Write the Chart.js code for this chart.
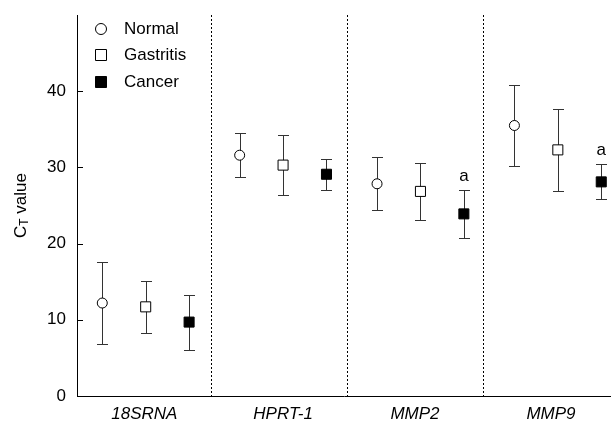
<!DOCTYPE html>
<html>
<head>
<meta charset="utf-8">
<script src="https://cdn.jsdelivr.net/npm/chart.js@4"></script>
<style>
  html, body { margin: 0; padding: 0; background: #fff; overflow: hidden; }
  canvas { display: block; }
</style>
</head>
<body>
<canvas id="ctChart" width="611" height="421"></canvas>
<script>
// genes on the x axis
const genes = ['18SRNA', 'HPRT-1', 'MMP2', 'MMP9'];
const geneLabelAt = [0.49, 1.5, 2.46, 3.45];
const groups = ['Normal', 'Gastritis', 'Cancer'];

// mean CT values
const normalMean    = [12.2, 31.6, 27.85, 35.5];
const gastritisMean = [11.7, 30.3, 26.85, 32.3];
const cancerMean    = [9.7, 29.1, 23.9, 28.1];

// error bar half widths (SD)
const normalSd    = [5.35, 2.9, 3.5, 5.3];
const gastritisSd = [3.45, 3.9, 3.75, 5.4];
const cancerSd    = [3.6, 2.05, 3.1, 2.3];

// significance marks over the cancer group
const cancerMarks = ['', '', 'a', 'a'];

const yTicks = [0, 10, 20, 30, 40];
const dividerAt = [0.977, 1.967, 2.957];

const FONT = '"Liberation Sans", Arial, sans-serif';
const groupOffset = [-0.316, 0, 0.316];

function pointsFor(means, sds, g) {
  return means.map((m, i) => ({ x: i + 0.5 + groupOffset[g], y: m, sd: sds[i] }));
}

// keep chart.js from reserving room for half labels
function noPad(scale) {
  scale.paddingTop = 0;
  scale.paddingBottom = 0;
  scale.paddingLeft = 0;
  scale.paddingRight = 0;
}

const errorBars = {
  id: 'errorBars',
  beforeDatasetsDraw(chart) {
    const ctx = chart.ctx;
    const xs = chart.scales.x, ys = chart.scales.y;
    ctx.save();
    ctx.strokeStyle = '#333';
    ctx.lineWidth = 1;
    chart.data.datasets.forEach(ds => {
      ds.data.forEach(p => {
        const x = Math.round(xs.getPixelForValue(p.x)) + 0.5;
        const top = Math.round(ys.getPixelForValue(p.y + p.sd)) + 0.5;
        const bot = Math.round(ys.getPixelForValue(p.y - p.sd)) + 0.5;
        ctx.beginPath();
        ctx.moveTo(x, top); ctx.lineTo(x, bot);
        ctx.moveTo(x - 5.5, top); ctx.lineTo(x + 5.5, top);
        ctx.moveTo(x - 5.5, bot); ctx.lineTo(x + 5.5, bot);
        ctx.stroke();
      });
    });
    // marks above cancer bars
    ctx.fillStyle = '#000';
    ctx.font = '17px ' + FONT;
    ctx.textAlign = 'center';
    ctx.textBaseline = 'middle';
    const cds = chart.data.datasets[2];
    cancerMarks.forEach((m, i) => {
      if (!m) return;
      const p = cds.data[i];
      ctx.fillText(m, xs.getPixelForValue(p.x), ys.getPixelForValue(p.y + p.sd) - 14);
    });
    ctx.restore();
  }
};

const frame = {
  id: 'frame',
  afterDraw(chart) {
    const ctx = chart.ctx;
    const a = chart.chartArea;
    const xs = chart.scales.x, ys = chart.scales.y;
    ctx.save();
    ctx.strokeStyle = '#000';
    ctx.lineWidth = 1;
    // dotted separators between genes
    ctx.setLineDash([2, 2]);
    dividerAt.forEach(v => {
      const x = Math.round(xs.getPixelForValue(v)) + 0.5;
      ctx.beginPath();
      ctx.moveTo(x, a.top);
      ctx.lineTo(x, a.bottom);
      ctx.stroke();
    });
    ctx.setLineDash([]);
    // inward tick marks
    yTicks.forEach(v => {
      const y = Math.round(ys.getPixelForValue(v)) + 0.5;
      ctx.beginPath();
      ctx.moveTo(a.left, y);
      ctx.lineTo(a.left + 6, y);
      ctx.stroke();
    });

    // legend
    const lx = a.left + 24;
    const rows = [a.top + 14, a.top + 40, a.top + 67];
    ctx.font = '17px ' + FONT;
    ctx.textAlign = 'left';
    ctx.textBaseline = 'middle';
    rows.forEach((ry, g) => {
      ctx.beginPath();
      if (g === 0) {
        ctx.arc(lx, ry, 5.5, 0, Math.PI * 2);
      } else {
        ctx.rect(lx - 5.5, ry - 5.5, 11, 11);
      }
      ctx.fillStyle = g === 2 ? '#000' : '#fff';
      ctx.fill();
      ctx.stroke();
      ctx.fillStyle = '#000';
      ctx.fillText(groups[g], a.left + 47, ry);
    });

    // y axis title with subscript T
    ctx.translate(21, (a.top + a.bottom) / 2);
    ctx.rotate(-Math.PI / 2);
    ctx.textBaseline = 'middle';
    ctx.textAlign = 'left';
    const big = '17px ' + FONT, small = '12px ' + FONT;
    ctx.font = big;
    const wC = ctx.measureText('C').width;
    const wRest = ctx.measureText(' value').width;
    ctx.font = small;
    const wT = ctx.measureText('T').width;
    let cx = -(wC + wT + wRest) / 2;
    ctx.font = big;
    ctx.fillText('C', cx, 0);
    cx += wC;
    ctx.font = small;
    ctx.fillText('T', cx, 4);
    cx += wT;
    ctx.font = big;
    ctx.fillText(' value', cx, 0);
    ctx.restore();
  }
};

new Chart(document.getElementById('ctChart'), {
  type: 'scatter',
  data: {
    datasets: [
      {
        label: groups[0],
        data: pointsFor(normalMean, normalSd, 0),
        pointStyle: 'circle',
        pointRadius: 5,
        backgroundColor: '#fff',
        borderColor: '#000',
        borderWidth: 1
      },
      {
        label: groups[1],
        data: pointsFor(gastritisMean, gastritisSd, 1),
        pointStyle: 'rect',
        pointRadius: 7.1,
        backgroundColor: '#fff',
        borderColor: '#000',
        borderWidth: 1
      },
      {
        label: groups[2],
        data: pointsFor(cancerMean, cancerSd, 2),
        pointStyle: 'rect',
        pointRadius: 7.1,
        backgroundColor: '#000',
        borderColor: '#000',
        borderWidth: 1
      }
    ]
  },
  options: {
    responsive: false,
    animation: false,
    layout: { autoPadding: false, padding: { top: 15, right: 0, left: 0, bottom: 0 } },
    plugins: {
      legend: { display: false },
      tooltip: { enabled: false }
    },
    scales: {
      x: {
        type: 'linear',
        min: 0,
        max: 3.887,
        afterBuildTicks(scale) {
          scale.ticks = geneLabelAt.map(v => ({ value: v }));
        },
        afterFit(scale) { scale.height = 25; noPad(scale); },
        grid: { display: false, drawTicks: false },
        border: { display: true, color: '#000', width: 1 },
        ticks: {
          autoSkip: false,
          maxRotation: 0,
          padding: 8,
          color: '#000',
          font: { family: FONT, size: 17, style: 'italic' },
          callback: (v, i) => genes[i]
        }
      },
      y: {
        min: 0,
        max: 50,
        afterBuildTicks(scale) {
          scale.ticks = yTicks.map(v => ({ value: v }));
        },
        afterFit(scale) { scale.width = 77; noPad(scale); },
        grid: { display: false, drawTicks: false },
        border: { display: true, color: '#000', width: 1 },
        ticks: {
          padding: 11,
          color: '#000',
          font: { family: FONT, size: 17 }
        }
      }
    }
  },
  plugins: [errorBars, frame]
});
</script>
</body>
</html>
